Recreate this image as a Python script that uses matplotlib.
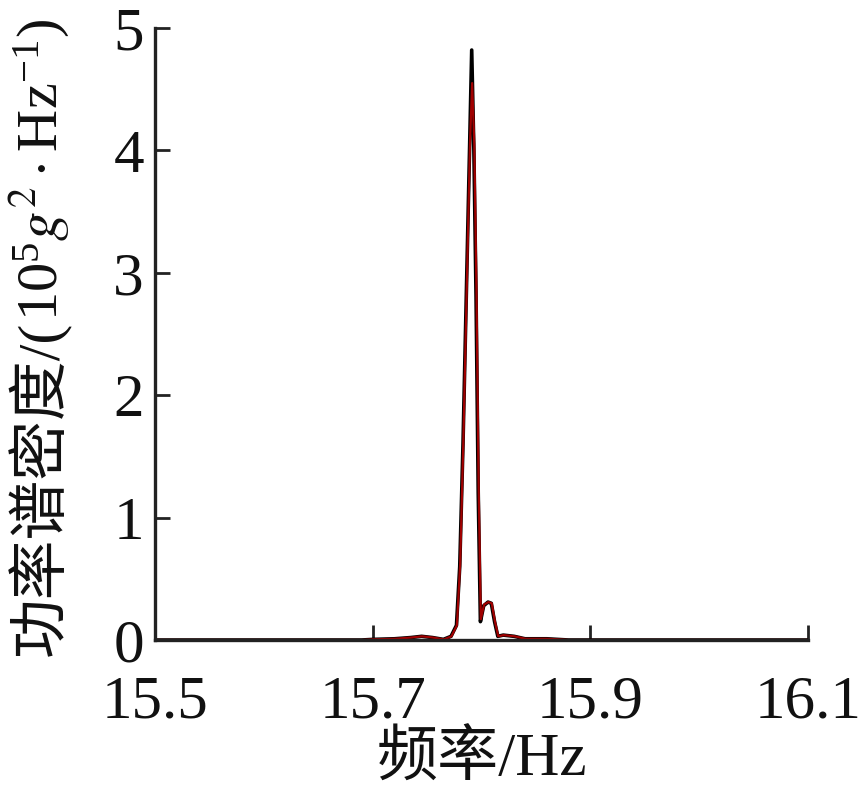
import numpy as np
import matplotlib
matplotlib.use('Agg')
import matplotlib.pyplot as plt

plt.rcParams['font.family'] = ['Liberation Serif', 'Noto Sans CJK SC']
plt.rcParams['mathtext.fontset'] = 'stix'

# spectrum
freq = [15.50, 15.69, 15.70, 15.72, 15.735, 15.745, 15.755, 15.765, 15.772,
        15.777, 15.780, 15.783, 15.786, 15.789, 15.791, 15.793, 15.795,
        15.797, 15.799, 15.802, 15.806, 15.809, 15.812, 15.815, 15.82,
        15.83, 15.84, 15.86, 15.87, 15.88, 16.10]
psd_black = [0, 0, 0.005, 0.01, 0.02, 0.03, 0.02, 0.005, 0.03,
             0.12, 0.6, 1.6, 2.8, 4.0, 4.82, 4.0, 2.8,
             1.2, 0.15, 0.28, 0.31, 0.30, 0.15, 0.03, 0.04,
             0.03, 0.01, 0.01, 0.005, 0, 0]
psd_red = [0, 0, 0.005, 0.01, 0.02, 0.03, 0.02, 0.005, 0.03,
           0.12, 0.62, 1.65, 2.85, 4.05, 4.55, 4.05, 2.85,
           1.25, 0.17, 0.29, 0.31, 0.30, 0.15, 0.03, 0.04,
           0.03, 0.01, 0.01, 0.005, 0, 0]
xticks = [15.5, 15.7, 15.9, 16.1]
yticks = [0, 1, 2, 3, 4, 5]

fig = plt.figure(figsize=(8.58, 7.92), dpi=100)
ax = fig.add_axes([155 / 858, 1 - 640 / 792, 653 / 858, 612 / 792])

ax.plot(freq, psd_black, color='black', lw=2.6)
ax.plot(np.array(freq) + 0.0004, psd_red, color='#a00000', lw=1.6)

ax.set_xlim(15.5, 16.1)
ax.set_ylim(0, 5)
ax.set_xticks(xticks)
ax.set_xticklabels(['15.5', '15.7', '15.9', '16.1'])
ax.set_yticks(yticks)

for s in ['top', 'right']:
    ax.spines[s].set_visible(False)
for s in ['left', 'bottom']:
    ax.spines[s].set_linewidth(2.4)
    ax.spines[s].set_color('#222222')
ax.tick_params(direction='in', length=11, width=2, labelsize=44,
               color='#222222', labelcolor='#111111')
ax.tick_params(axis='x', pad=25)
ax.tick_params(axis='y', pad=8)

ax.set_xlabel('频率/Hz', fontsize=44, labelpad=1, color='#111111')

# y label in two parts: Chinese text + math units
t1 = fig.text(58 / 858, 136 / 792, '功率谱密度/(', fontsize=43, rotation=90,
              rotation_mode='anchor', ha='left', va='baseline', color='#111111')
fig.canvas.draw()
bb = t1.get_window_extent()
fig.text(58 / 858, bb.y1 / fig.bbox.height,
         r'$\mathregular{10^5}g^2\cdot\mathregular{Hz^{-1})}$',
         fontsize=42, rotation=90, rotation_mode='anchor', ha='left',
         va='baseline', color='#111111')

fig.savefig('out.png', dpi=100)
